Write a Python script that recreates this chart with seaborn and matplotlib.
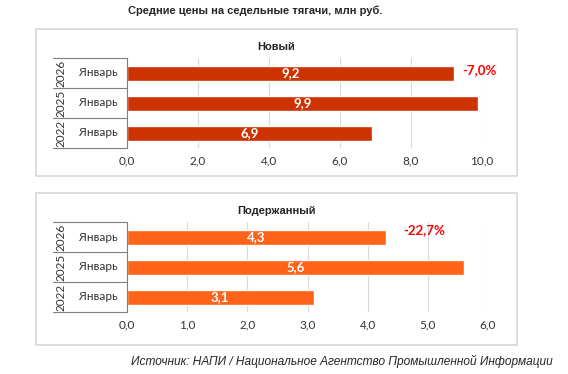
import matplotlib
matplotlib.use("Agg")
import matplotlib.pyplot as plt
from matplotlib.patches import Rectangle
from matplotlib.lines import Line2D
import seaborn as sns
import pandas as pd

W, H = 568, 374

# data
years = ["2026", "2025", "2022"]
months = ["Январь", "Январь", "Январь"]
new_prices = [9.2, 9.9, 6.9]
used_prices = [4.3, 5.6, 3.1]
new_change = "-7,0%"
used_change = "-22,7%"
new_ticks = [0, 2, 4, 6, 8, 10]
used_ticks = [0, 1, 2, 3, 4, 5, 6]

sns.set_theme(style="white")
plt.rcParams["font.family"] = ["Lato", "DejaVu Sans"]

fig = plt.figure(figsize=(W / 100, H / 100), dpi=100)


def px_box(l, t, r, b):
    # pixel box -> figure fraction [left, bottom, width, height]
    return [l / W, 1 - b / H, (r - l) / W, (b - t) / H]


def panel(frame, axbox, values, color, title, title_y, ticks, change, change_x, change_y):
    fx = px_box(*frame)
    fig.patches.append(Rectangle((fx[0], fx[1]), fx[2], fx[3], transform=fig.transFigure,
                                 fill=False, edgecolor="#d4d4d4", linewidth=1.1))
    fig.text((frame[0] + frame[2]) / 2 / W, 1 - title_y / H, title, ha="center", va="center",
             fontsize=8, fontweight="bold", family=["Liberation Sans"])

    ax = fig.add_axes(px_box(*axbox))
    df = pd.DataFrame({"year": years, "value": values})
    sns.barplot(data=df, x="value", y="year", orient="h", color=color, width=0.5,
                saturation=1, ax=ax)
    ax.set_xlim(ticks[0], ticks[-1])
    ax.set_ylim(2.5, -0.5)
    ax.set_xticks(ticks)
    ax.set_xticklabels([f"{t:.1f}".replace(".", ",") for t in ticks], fontsize=8.5, color="#333333")
    ax.tick_params(axis="x", length=0, pad=5)
    ax.set_yticks([])
    ax.set_xlabel("")
    ax.set_ylabel("")
    ax.grid(axis="x", color="#d9d9d9", linewidth=0.8)
    ax.set_axisbelow(True)
    for s in ["top", "right", "bottom"]:
        ax.spines[s].set_visible(False)
    ax.spines["left"].set_color("#7f7f7f")
    ax.spines["left"].set_linewidth(0.8)

    for i, v in enumerate(values):
        ax.text(v / 2, i, f"{v:.1f}".replace(".", ","), ha="center", va="center",
                color="white", fontsize=9.5, fontweight="bold")

    # category axis table on the left
    axw = axbox[2] - axbox[0]
    left = (53 - axbox[0]) / axw
    for yb in [-0.5, 0.5, 1.5, 2.5]:
        ax.add_line(Line2D([left, 0], [yb, yb], transform=ax.get_yaxis_transform(),
                           color="#7f7f7f", linewidth=0.8, clip_on=False))
    for i in range(len(years)):
        ax.text((61 - axbox[0]) / axw, i, years[i], transform=ax.get_yaxis_transform(),
                rotation=90, ha="center", va="center", fontsize=8.5, color="#333333")
        ax.text((98 - axbox[0]) / axw, i, months[i], transform=ax.get_yaxis_transform(),
                ha="center", va="center", fontsize=8.5, color="#333333")

    fig.text(change_x / W, 1 - change_y / H, change, ha="center", va="center",
             color="#ff0000", fontsize=9.5, fontweight="bold")
    return ax


panel((36, 29, 517, 176), (127, 58, 482, 148), new_prices, "#cc3300", "Новый", 47,
      new_ticks, new_change, 479, 70)
panel((36, 193, 517, 345), (127, 222, 488, 312), used_prices, "#ff6319", "Подержанный", 211,
      used_ticks, used_change, 424, 230)

fig.text(255 / W, 1 - 11 / H, "Средние цены на седельные тягачи, млн руб.", ha="center",
         va="center", fontsize=8, fontweight="bold", family=["Liberation Sans"])
fig.text(553 / W, 1 - 361 / H, "Источник: НАПИ / Национальное Агентство Промышленной Информации",
         ha="right", va="center", fontsize=8.6, style="italic", family=["Liberation Sans"])

fig.savefig("out.png", dpi=100, facecolor="white")
